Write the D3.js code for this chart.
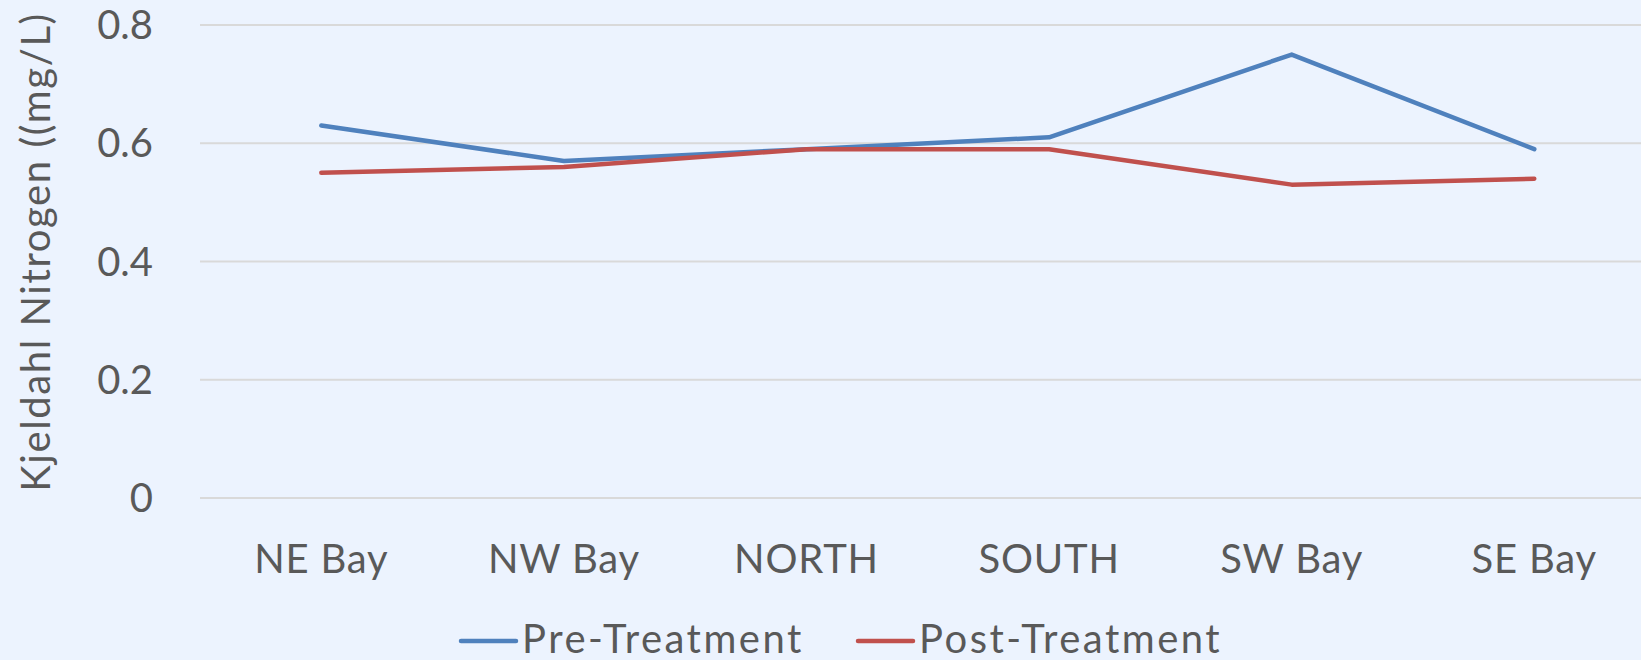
<!DOCTYPE html>
<html><head><meta charset="utf-8">
<script src="https://cdn.jsdelivr.net/npm/d3@7/dist/d3.min.js"></script>
<style>
html,body{margin:0;padding:0;background:#ECF3FE;overflow:hidden}
svg{display:block}
text{font-family:Lato,"Open Sans",sans-serif;fill:#595959}
</style></head><body>
<svg id="c" width="1641" height="660"></svg>
<script>
const categories = ["NE Bay","NW Bay","NORTH","SOUTH","SW Bay","SE Bay"];
const preTreatment = [0.63,0.57,0.59,0.61,0.75,0.59];
const postTreatment = [0.55,0.56,0.59,0.59,0.53,0.54];
const yTicks = [0,0.2,0.4,0.6,0.8];
const seriesNames = ["Pre-Treatment","Post-Treatment"];
const seriesColors = ["#4F81BD","#C0504D"];
const yTitle = "Kjeldahl Nitrogen ((mg/L)";

const svg = d3.select("#c");
svg.append("rect").attr("width",1641).attr("height",660).attr("fill","#ECF3FE");

const x = d3.scaleBand().domain(categories).range([200,1655.6]).padding(0);
const y = d3.scaleLinear().domain([0,0.8]).range([498,25]);
const FS = 40;

// gridlines
svg.append("g").selectAll("line").data(yTicks).join("line")
  .attr("x1",200).attr("x2",1641)
  .attr("y1",d=>y(d)).attr("y2",d=>y(d))
  .attr("stroke","#D9D9D9").attr("stroke-width",2);

// y tick labels
svg.append("g").selectAll("text").data(yTicks).join("text")
  .attr("x",153).attr("y",d=>y(d)+14)
  .attr("text-anchor","end").attr("font-size",FS)
  .text(d=>d3.format("")(d===0?0:d));

// x labels
svg.append("g").selectAll("text").data(categories).join("text")
  .attr("x",d=>x(d)+x.bandwidth()/2).attr("y",573)
  .attr("text-anchor","middle").attr("font-size",FS)
  .attr("letter-spacing",0.8)
  .text(d=>d);

// y title
svg.append("text")
  .attr("transform","translate(50,252) rotate(-90)")
  .attr("text-anchor","middle").attr("font-size",FS)
  .attr("letter-spacing",1.6)
  .text(yTitle);

// lines
const line = d3.line().x((d,i)=>x(categories[i])+x.bandwidth()/2).y(d=>y(d));
[preTreatment,postTreatment].forEach((s,k)=>{
  svg.append("path").datum(s).attr("d",line)
    .attr("fill","none").attr("stroke",seriesColors[k])
    .attr("stroke-width",4.5).attr("stroke-linejoin","round").attr("stroke-linecap","round");
});

// legend
const legX = [461,858];
seriesNames.forEach((n,k)=>{
  svg.append("line").attr("x1",legX[k]).attr("x2",legX[k]+55)
    .attr("y1",641).attr("y2",641)
    .attr("stroke",seriesColors[k]).attr("stroke-width",4.5).attr("stroke-linecap","round");
  svg.append("text").attr("x",legX[k]+61).attr("y",653)
    .attr("font-size",FS).attr("letter-spacing",2.5).text(n);
});
</script>
</body></html>
